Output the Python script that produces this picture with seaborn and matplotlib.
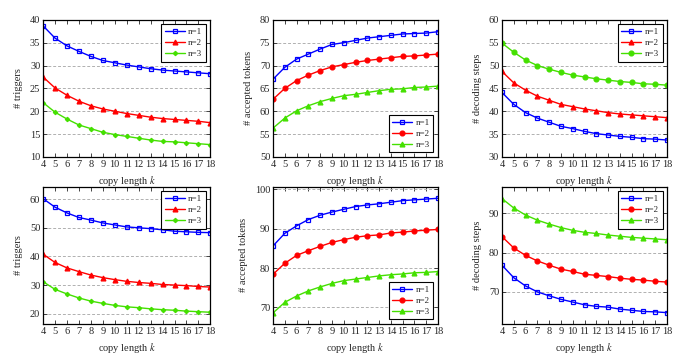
import numpy as np
import pandas as pd
import matplotlib
matplotlib.use("Agg")
import matplotlib.pyplot as plt
import seaborn as sns

# copy length k
k = list(range(4, 19))

# top row
trig1_n1 = [38.7, 36.0, 34.3, 33.1, 32.0, 31.1, 30.6, 30.1, 29.7, 29.3, 29.0, 28.8, 28.6, 28.4, 28.2]
trig1_n2 = [27.5, 25.1, 23.5, 22.2, 21.2, 20.5, 20.0, 19.5, 19.1, 18.7, 18.4, 18.2, 18.0, 17.8, 17.5]
trig1_n3 = [21.9, 19.8, 18.3, 17.0, 16.2, 15.4, 14.9, 14.5, 14.1, 13.7, 13.4, 13.3, 13.1, 12.9, 12.7]

acc1_n1 = [67.0, 69.6, 71.4, 72.5, 73.6, 74.6, 75.0, 75.5, 76.0, 76.3, 76.6, 76.9, 77.0, 77.1, 77.4]
acc1_n2 = [62.6, 65.0, 66.7, 67.9, 68.9, 69.7, 70.2, 70.7, 71.1, 71.4, 71.7, 72.0, 72.1, 72.3, 72.5]
acc1_n3 = [56.3, 58.5, 60.1, 61.2, 62.1, 62.8, 63.4, 63.7, 64.1, 64.5, 64.8, 64.9, 65.2, 65.3, 65.5]

dec1_n1 = [44.1, 41.5, 39.7, 38.5, 37.6, 36.7, 36.2, 35.6, 35.1, 34.8, 34.5, 34.3, 34.0, 33.9, 33.7]
dec1_n2 = [48.7, 46.2, 44.6, 43.3, 42.4, 41.5, 41.0, 40.5, 40.1, 39.7, 39.4, 39.2, 39.0, 38.8, 38.6]
dec1_n3 = [54.9, 52.9, 51.2, 50.0, 49.2, 48.5, 47.9, 47.5, 47.1, 46.8, 46.5, 46.3, 46.0, 45.9, 45.7]

# bottom row
trig2_n1 = [60.2, 57.2, 55.2, 53.6, 52.7, 51.7, 51.0, 50.3, 50.0, 49.7, 49.3, 48.8, 48.6, 48.4, 48.3]
trig2_n2 = [40.8, 37.9, 36.0, 34.7, 33.5, 32.6, 31.9, 31.3, 30.9, 30.6, 30.2, 30.0, 29.8, 29.5, 29.3]
trig2_n3 = [31.2, 28.5, 26.9, 25.5, 24.4, 23.6, 22.9, 22.4, 22.1, 21.7, 21.4, 21.2, 20.9, 20.7, 20.5]

acc2_n1 = [85.6, 88.8, 90.7, 92.3, 93.4, 94.2, 94.9, 95.6, 96.0, 96.3, 96.7, 97.1, 97.3, 97.5, 97.7]
acc2_n2 = [78.4, 81.2, 83.2, 84.4, 85.5, 86.5, 87.2, 87.8, 88.2, 88.4, 88.9, 89.1, 89.4, 89.6, 89.8]
acc2_n3 = [68.6, 71.3, 72.9, 74.2, 75.2, 76.1, 76.8, 77.2, 77.6, 78.0, 78.3, 78.5, 78.8, 78.9, 79.1]

dec2_n1 = [76.8, 73.6, 71.5, 70.0, 69.0, 68.1, 67.4, 66.7, 66.3, 66.1, 65.6, 65.3, 65.0, 64.9, 64.7]
dec2_n2 = [84.1, 81.2, 79.3, 77.9, 76.8, 75.8, 75.2, 74.5, 74.2, 73.9, 73.5, 73.2, 73.0, 72.7, 72.5]
dec2_n3 = [93.8, 91.4, 89.6, 88.3, 87.3, 86.4, 85.7, 85.2, 84.9, 84.5, 84.2, 83.9, 83.7, 83.5, 83.3]

labels = ["n=1", "n=2", "n=3"]
colors = ["#0000ff", "#ff0000", "#44e000"]

sns.set_style("ticks")
plt.rcParams["font.family"] = ["Liberation Serif", "DejaVu Serif"]
plt.rcParams["mathtext.fontset"] = "stix"

fig = plt.figure(figsize=(6.83, 3.6), dpi=100)

panels = [
    # (series, markers, ylabel, ylim, yticks, legend loc, position)
    ((trig1_n1, trig1_n2, trig1_n3), ("s", "^", "D"), "# triggers", (10, 40), range(10, 41, 5), "upper right", [0.063, 0.564, 0.245, 0.381]),
    ((acc1_n1, acc1_n2, acc1_n3), ("s", "o", "^"), "# accepted tokens", (50, 80), range(50, 81, 5), "lower right", [0.3997, 0.564, 0.2416, 0.381]),
    ((dec1_n1, dec1_n2, dec1_n3), ("s", "^", "o"), "# decoding steps", (30, 60), range(30, 61, 5), "upper right", [0.735, 0.564, 0.2416, 0.381]),
    ((trig2_n1, trig2_n2, trig2_n3), ("s", "^", "D"), "# triggers", (16.4, 64.3), range(20, 61, 10), "upper right", [0.063, 0.1, 0.245, 0.381]),
    ((acc2_n1, acc2_n2, acc2_n3), ("s", "o", "^"), "# accepted tokens", (65.8, 100.6), range(70, 101, 10), "lower right", [0.3997, 0.1, 0.2416, 0.381]),
    ((dec2_n1, dec2_n2, dec2_n3), ("s", "o", "^"), "# decoding steps", (61.8, 96.8), range(70, 91, 10), "upper right", [0.735, 0.1, 0.2416, 0.381]),
]

for series, markers, ylabel, ylim, yticks, loc, pos in panels:
    ax = fig.add_axes(pos)
    for vals, m, c, lab in zip(series, markers, colors, labels):
        df = pd.DataFrame({"k": k, "v": vals})
        small = m == "D"
        sns.lineplot(data=df, x="k", y="v", ax=ax, color=c, lw=1.0,
                     marker=m, markersize=2.2 if small else 3.5,
                     markerfacecolor="none" if m == "s" else c,
                     markeredgecolor=c, markeredgewidth=0.9, label=lab)
    ax.set_xlim(4, 18)
    ax.set_ylim(*ylim)
    ax.set_xticks(k)
    ax.set_yticks(list(yticks))
    ax.yaxis.grid(True, linestyle=(0, (3, 2)), color="#b0b0b0", lw=0.7)
    ax.set_axisbelow(True)
    ax.tick_params(direction="in", top=True, right=True, labelsize=7.5, length=3, width=0.6, pad=2)
    for s in ax.spines.values():
        s.set_linewidth(0.9)
        s.set_color("black")
    ax.set_xlabel(r"copy length $k$", fontsize=7.5, labelpad=4)
    ax.set_ylabel(ylabel, fontsize=7.5, labelpad=5)
    leg = ax.legend(loc=loc, fontsize=6.5, frameon=True, fancybox=False,
                    edgecolor="black", framealpha=1, handlelength=2.2,
                    borderpad=0.4, labelspacing=0.3, handletextpad=0.4,
                    borderaxespad=0.5)
    leg.get_frame().set_linewidth(0.8)

fig.savefig("out.png", dpi=100)
